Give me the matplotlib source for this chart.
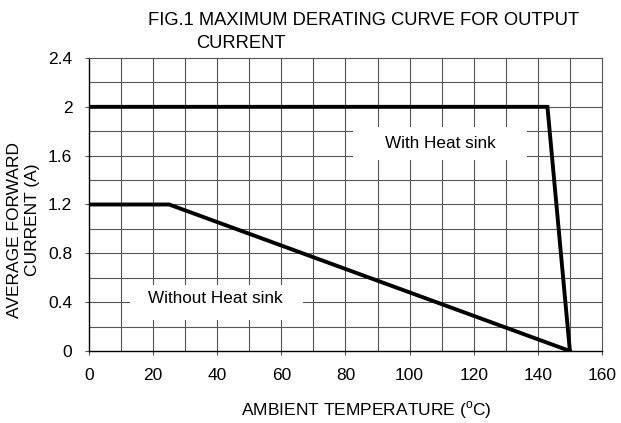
import numpy as np
import matplotlib
matplotlib.use('Agg')
import matplotlib.pyplot as plt
from matplotlib.patches import Rectangle

plt.rcParams['font.family'] = ['Liberation Sans', 'DejaVu Sans']
plt.rcParams['mathtext.fontset'] = 'custom'
plt.rcParams['mathtext.rm'] = 'Liberation Sans'

# Derating curves (temperature in C, current in A)
with_sink_t = [0, 143, 150]
with_sink_i = [2.0, 2.0, 0.0]
without_sink_t = [0, 25, 150]
without_sink_i = [1.2, 1.2, 0.0]

x_ticks = [0, 20, 40, 60, 80, 100, 120, 140, 160]
y_ticks = [0, 0.4, 0.8, 1.2, 1.6, 2.0, 2.4]
y_tick_labels = ['0', '0.4', '0.8', '1.2', '1.6', '2', '2.4']

W, H = 621, 423
fig = plt.figure(figsize=(W / 100, H / 100), dpi=100)
ax = fig.add_axes([0.1433, 0.1702, 0.826, 0.6927])

# grid every 10 C and 0.2 A
for xv in np.arange(10, 160, 10):
    ax.axvline(xv, color='#555555', lw=0.8, zorder=1)
for yv in np.arange(0.2, 2.4, 0.2):
    ax.axhline(yv, color='#555555', lw=0.8, zorder=1)

ax.plot(with_sink_t, with_sink_i, color='black', lw=2.8, solid_joinstyle='miter', zorder=4)
ax.plot(without_sink_t, without_sink_i, color='black', lw=2.8, solid_joinstyle='miter', zorder=4)

# white label boxes that blank out the grid
ax.add_patch(Rectangle((82.3, 1.565), 54.3, 0.27, facecolor='white', edgecolor='none', zorder=2))
ax.add_patch(Rectangle((12.8, 0.254), 54.0, 0.286, facecolor='white', edgecolor='none', zorder=2))
ax.text(109.5, 1.70, 'With Heat sink', ha='center', va='center', fontsize=12.3, zorder=3)
ax.text(39.5, 0.43, 'Without Heat sink', ha='center', va='center', fontsize=12.3, zorder=3)

ax.set_xlim(0, 160)
ax.set_ylim(0, 2.4)
ax.set_xticks(x_ticks)
ax.set_yticks(y_ticks)
ax.set_yticklabels(y_tick_labels)
ax.tick_params(labelsize=12.5, length=3, width=0.8, color='#555555', direction='out')
ax.tick_params(axis='x', pad=9)
ax.tick_params(axis='y', pad=9)
for side in ['top', 'right']:
    ax.spines[side].set_color('#555555')
    ax.spines[side].set_linewidth(0.8)
for side in ['left', 'bottom']:
    ax.spines[side].set_color('black')
    ax.spines[side].set_linewidth(1.0)

# x label sits a little right of the axis centre
fig.text(366 / W, 1 - 415 / H, r'AMBIENT TEMPERATURE ($^{\rm o}$C)',
         fontsize=12.5, ha='center', va='baseline')

# y label, two rotated lines
fig.text(15 / W, 1 - 230 / H, 'AVERAGE FORWARD', rotation=90,
         fontsize=12.5, ha='center', va='center')
fig.text(33 / W, 1 - 220 / H, 'CURRENT (A)', rotation=90,
         fontsize=12.5, ha='center', va='center')

fig.text(148 / W, 1 - 25 / H, 'FIG.1 MAXIMUM DERATING CURVE FOR OUTPUT',
         fontsize=13.2, ha='left', va='baseline')
fig.text(196 / W, 1 - 48 / H, 'CURRENT',
         fontsize=13.2, ha='left', va='baseline')

fig.savefig('out.png', dpi=100, facecolor='white')
